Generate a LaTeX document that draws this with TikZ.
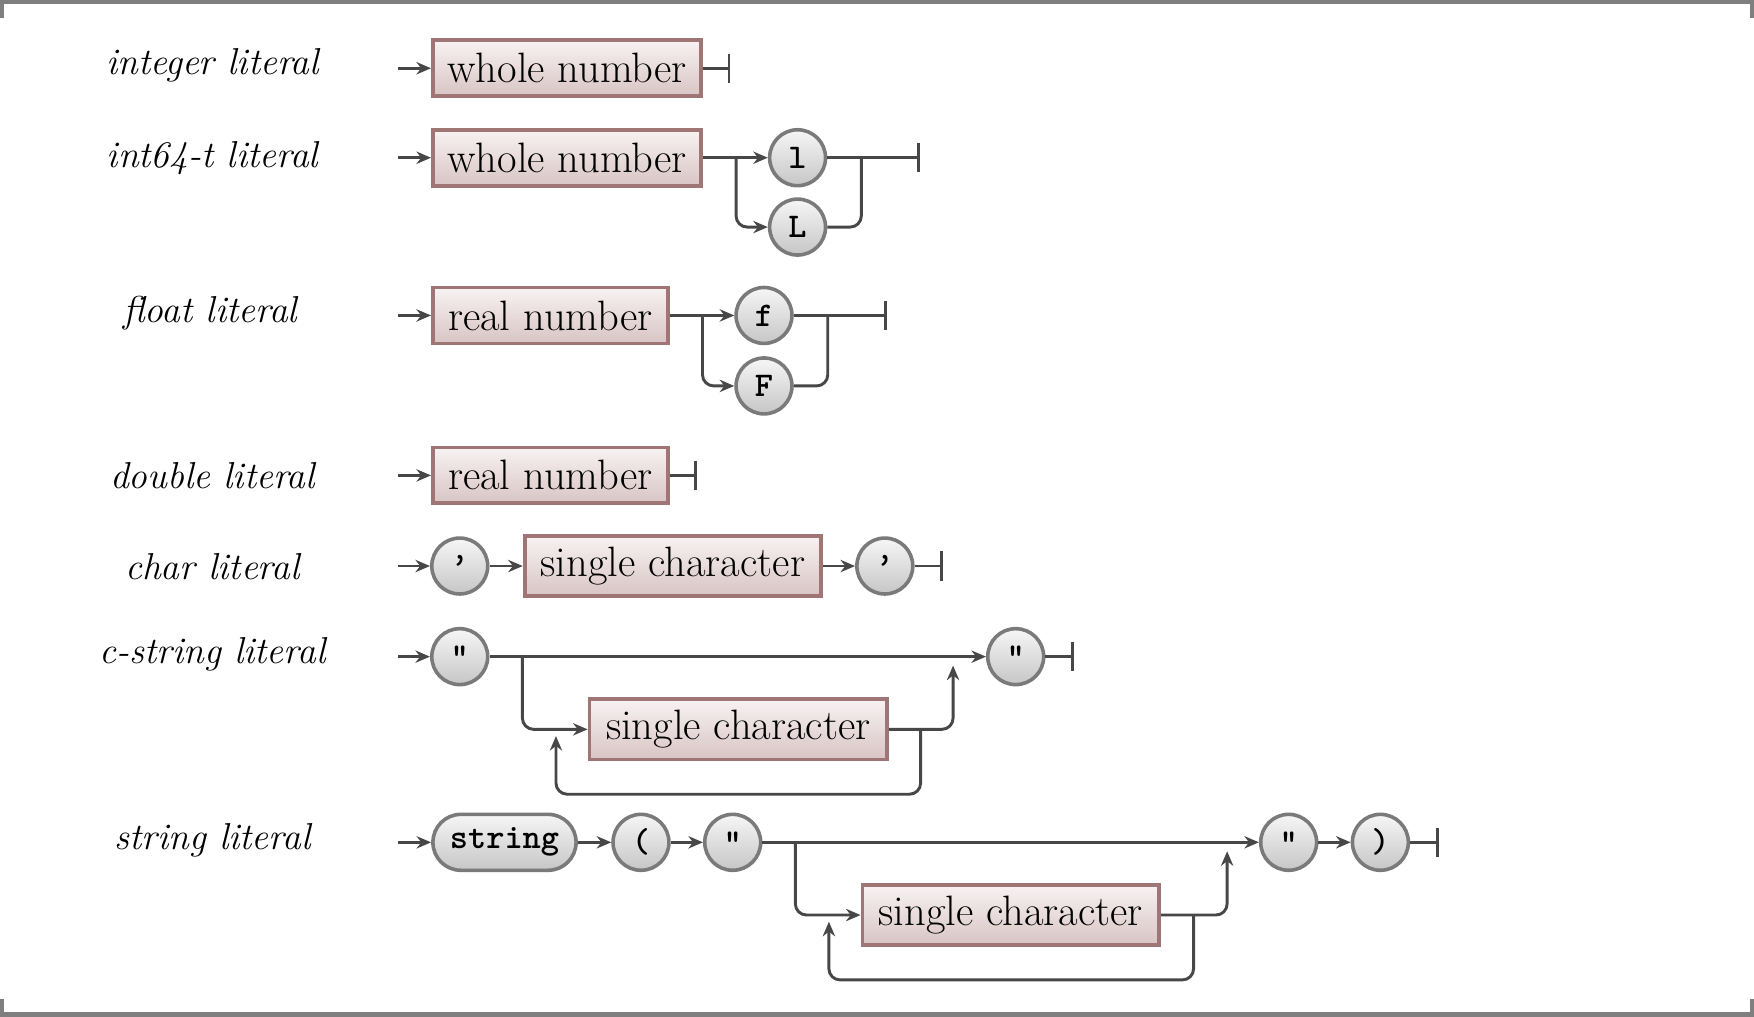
\documentclass[tikz,border=0pt]{standalone}
\usepackage{fontspec}
\usetikzlibrary{arrows.meta}
\definecolor{linec}{HTML}{474747}
\definecolor{boxdraw}{HTML}{A07575}
\definecolor{boxtop}{HTML}{F8F2F2}
\definecolor{boxbot}{HTML}{D8C4C4}
\definecolor{circdraw}{HTML}{7A7A7A}
\definecolor{circtop}{HTML}{F6F6F6}
\definecolor{circbot}{HTML}{C6C6C6}
\definecolor{framec}{HTML}{7F7F7F}
\begin{document}
\begin{tikzpicture}[x=1pt,y=-1pt,
  nt/.style={draw=boxdraw, line width=3.4pt, top color=boxtop, bottom color=boxbot,
    minimum height=50pt, inner sep=0pt, font=\fontsize{38}{44}\selectfont},
  term/.style={circle, draw=circdraw, line width=3.2pt, top color=circtop, bottom color=circbot,
    minimum size=50pt, inner sep=0pt, font=\ttfamily\bfseries\fontsize{31}{31}\selectfont},
  lbl/.style={font=\itshape\fontsize{33.5}{40}\selectfont},
  conn/.style={draw=linec, line width=2.6pt, rounded corners=10pt},
  arr/.style={conn, -{Stealth[length=13pt,width=11pt]}},
  fin/.style={conn, -{Bar[width=26pt,line width=2.6pt]}},
  framel/.style={draw=framec, line width=4pt}
]
\useasboundingbox (0,0) rectangle (1568,909);
% frame
\draw[framel] (2,16) -- (2,2) -- (1566,2) -- (1566,16);
\draw[framel] (2,893) -- (2,907) -- (1566,907) -- (1566,893);

% labels
\node[lbl] (L1) at (190,58) {integer literal};
\node[lbl] (L2) at (190,141) {int64-t literal};
\node[lbl] (L3) at (188,280) {float literal};
\node[lbl] (L4) at (190,425) {double literal};
\node[lbl] (L5) at (190,507) {char literal};
\node[lbl] (L6) at (190,585) {c-string literal};
\node[lbl] (L7) at (190,751) {string literal};

% row 1
\coordinate (s1) at (356,61);
\node[nt, minimum width=240pt] (wn1) at (507,61) {whole number};
\coordinate (e1) at (653,61);
\draw[arr] (s1) -- (wn1);
\draw[fin] (wn1) -- (e1);

% row 2
\coordinate (s2) at (356,141);
\node[nt, minimum width=240pt] (wn2) at (507,141) {whole number};
\node[term] (tl) at (713,141) {l};
\node[term] (tL) at (713,203) {L};
\coordinate (b2) at (658,141);
\coordinate (j2) at (770,141);
\coordinate (e2) at (822,141);
\draw[arr] (s2) -- (wn2);
\draw[arr] (wn2) -- (tl);
\draw[arr] (b2) |- (tL);
\draw[fin] (tl) -- (e2);
\draw[conn] (tL) -| (j2);

% row 3
\coordinate (s3) at (356,282);
\node[nt, minimum width=210pt] (rn1) at (492,282) {real number};
\node[term] (tf) at (683,282) {f};
\node[term] (tF) at (683,345) {F};
\coordinate (b3) at (628,282);
\coordinate (j3) at (740,282);
\coordinate (e3) at (793,282);
\draw[arr] (s3) -- (rn1);
\draw[arr] (rn1) -- (tf);
\draw[arr] (b3) |- (tF);
\draw[fin] (tf) -- (e3);
\draw[conn] (tF) -| (j3);

% row 4
\coordinate (s4) at (356,425);
\node[nt, minimum width=210pt] (rn2) at (492,425) {real number};
\coordinate (e4) at (623,425);
\draw[arr] (s4) -- (rn2);
\draw[fin] (rn2) -- (e4);

% row 5
\coordinate (s5) at (356,506);
\node[term] (q1) at (411,506) {’};
\node[nt, minimum width=265pt, minimum height=54pt] (sc1) at (601.5,506) {single character};
\node[term] (q2) at (791,506) {’};
\coordinate (e5) at (843,506);
\draw[arr] (s5) -- (q1);
\draw[arr] (q1) -- (sc1);
\draw[arr] (sc1) -- (q2);
\draw[fin] (q2) -- (e5);

% row 6
\coordinate (s6) at (356,587);
\node[term] (dq1) at (411,587) {"};
\node[term] (dq2) at (908,587) {"};
\node[nt, minimum width=266pt, minimum height=54pt] (sc2) at (660,652) {single character};
\coordinate (e6) at (960,587);
\coordinate (b6) at (467,587);
\coordinate (r6) at (852,595);
\coordinate (l6a) at (823,652);
\coordinate (l6c) at (497,710);
\coordinate (l6b) at (497,658);
\draw[arr] (s6) -- (dq1);
\draw[arr] (dq1) -- (dq2);
\draw[fin] (dq2) -- (e6);
\draw[arr] (b6) |- (sc2);
\draw[arr] (sc2) -| (r6);
\draw[arr] (l6a) |- (l6c) -- (l6b);

% row 7
\coordinate (s7) at (356,753);
\node[term, rectangle, rounded corners=25pt, minimum width=128pt, minimum height=50pt] (str) at (451,753) {string};
\node[term] (p1) at (573,753) {(};
\node[term] (dq3) at (655,753) {"};
\node[term] (dq4) at (1152,753) {"};
\node[term] (p2) at (1234,753) {)};
\coordinate (e7) at (1286,753);
\node[nt, minimum width=265pt, minimum height=54pt] (sc3) at (903.5,818) {single character};
\coordinate (b7) at (711,753);
\coordinate (r7) at (1097,761);
\coordinate (l7a) at (1067,818);
\coordinate (l7c) at (741,876);
\coordinate (l7b) at (741,824);
\draw[arr] (s7) -- (str);
\draw[arr] (str) -- (p1);
\draw[arr] (p1) -- (dq3);
\draw[arr] (dq3) -- (dq4);
\draw[arr] (dq4) -- (p2);
\draw[fin] (p2) -- (e7);
\draw[arr] (b7) |- (sc3);
\draw[arr] (sc3) -| (r7);
\draw[arr] (l7a) |- (l7c) -- (l7b);
\end{tikzpicture}
\end{document}
